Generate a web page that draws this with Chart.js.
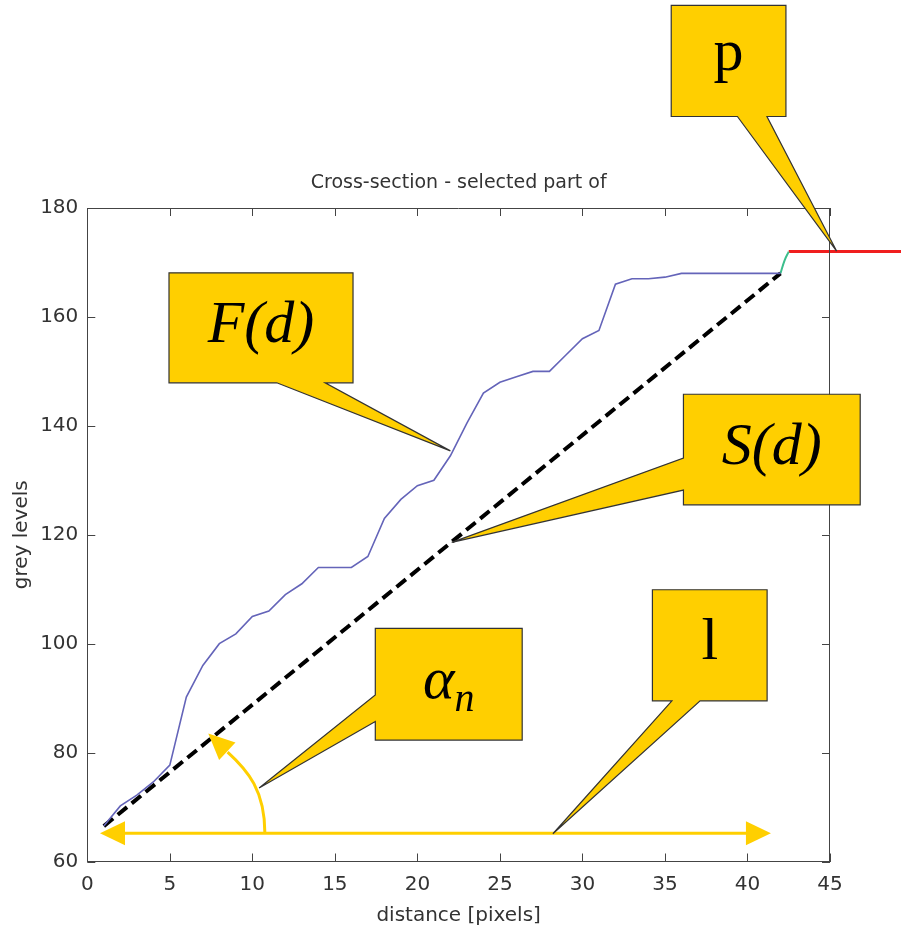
<!DOCTYPE html>
<html>
<head>
<meta charset="utf-8">
<script src="https://cdn.jsdelivr.net/npm/chart.js@4/dist/chart.umd.min.js"></script>
<style>
html,body{margin:0;padding:0;background:#fff;}
#wrap{width:901px;height:935px;position:relative;}
</style>
</head>
<body>
<div id="wrap"><canvas id="c" width="901" height="935"></canvas></div>
<script>
// ---- data ----
const distance = [1,2,3,4,5,6,7,8,9,10,11,12,13,14,15,16,17,18,19,20,21,22,23,24,25,26,27,28,29,30,31,32,33,34,35,36,37,38,39,40,41,42];
const greyF    = [66.5,70.2,72.2,74.6,77.7,90.2,96,100,101.8,105,106,109,111,114,114,114,116,123,126.5,129,130,134.5,140.5,146,148,149,150,150,153,156,157.5,166,167,167,167.3,168,168,168,168,168,168,168];
const chordX   = [1, 42];
const chordY   = [66.5, 168];
const transX   = [42, 42.25, 42.5];
const transY   = [168, 170.4, 172];
const pX       = [42.5, 50];
const pY       = [172, 172];
const xTicks   = [0,5,10,15,20,25,30,35,40,45];
const yTicks   = [60,80,100,120,140,160,180];

// annotation anchors (data coordinates)
const lenArrow = {from:[0.77,65.2], to:[41.42,65.2]};
const angleArc = [[10.76,65.2],[10.76,73.0],[9.74,76.7],[8.5,80.1]];
const angleTip = [7.33,83.5];
const callouts = [
  {text:'p',    italic:false, box:[35.38,217.2,42.33,196.8], side:'bottom', base:[39.39,41.18], tip:[45.4,172.1]},
  {text:'F(d)', italic:true,  box:[4.95,168.1,16.1,147.9],   side:'bottom', base:[11.48,14.41], tip:[22.0,135.4]},
  {text:'S(d)', italic:true,  box:[36.12,145.8,46.83,125.5], side:'left',   base:[134.1,128.2], tip:[22.08,118.6]},
  {text:'\u03B1', sub:'n', italic:true, box:[17.45,102.8,26.35,82.3], side:'left', base:[90.6,85.7], tip:[10.41,73.5]},
  {text:'l',    italic:false, box:[34.24,109.9,41.19,89.5],  side:'bottom', base:[35.42,37.13], tip:[28.21,65.1]}
];

const YELLOW = '#FFCF00';
const TEXTC = '#333';
const SANS = '"DejaVu Sans", sans-serif';
const SERIF = '"Liberation Serif", "Times New Roman", serif';

function pts(xs, ys){ return xs.map((x,i)=>({x:x, y:ys[i]})); }

function arrowHead(ctx, tip, from, len, half){
  const dx = tip[0]-from[0], dy = tip[1]-from[1];
  const d = Math.hypot(dx,dy); const ux = dx/d, uy = dy/d;
  const bx = tip[0]-ux*len, by = tip[1]-uy*len;
  ctx.beginPath();
  ctx.moveTo(tip[0],tip[1]);
  ctx.lineTo(bx - uy*half, by + ux*half);
  ctx.lineTo(bx + uy*half, by - ux*half);
  ctx.closePath();
  ctx.fill();
}

const decor = {
  id:'decor',
  afterDraw(chart){
    const ctx = chart.ctx;
    const xs = chart.scales.x, ys = chart.scales.y;
    const X = v=>xs.getPixelForValue(v), Y = v=>ys.getPixelForValue(v);
    const a = chart.chartArea;
    ctx.save();
    // box + inward ticks
    ctx.strokeStyle = '#444'; ctx.lineWidth = 1;
    ctx.beginPath();
    ctx.moveTo(a.left, a.top+0.5); ctx.lineTo(a.right, a.top+0.5);
    ctx.moveTo(a.right-0.5, a.top); ctx.lineTo(a.right-0.5, a.bottom);
    xTicks.forEach(v=>{ const px=Math.round(X(v))+0.5;
      ctx.moveTo(px,a.bottom); ctx.lineTo(px,a.bottom-8);
      ctx.moveTo(px,a.top); ctx.lineTo(px,a.top+8); });
    yTicks.forEach(v=>{ const py=Math.round(Y(v))+0.5;
      ctx.moveTo(a.left,py); ctx.lineTo(a.left+8,py);
      ctx.moveTo(a.right,py); ctx.lineTo(a.right-8,py); });
    ctx.stroke();

    // yellow length arrow
    ctx.strokeStyle = YELLOW; ctx.fillStyle = YELLOW; ctx.lineWidth = 3;
    const f = [X(lenArrow.from[0]), Y(lenArrow.from[1])], t = [X(lenArrow.to[0]), Y(lenArrow.to[1])];
    ctx.beginPath(); ctx.moveTo(f[0]+20,f[1]); ctx.lineTo(t[0]-20,t[1]); ctx.stroke();
    arrowHead(ctx, f, t, 25, 12);
    arrowHead(ctx, t, f, 25, 12);
    // angle arc
    const P = angleArc.map(p=>[X(p[0]),Y(p[1])]);
    ctx.beginPath(); ctx.moveTo(P[0][0],P[0][1]);
    ctx.bezierCurveTo(P[1][0],P[1][1],P[2][0],P[2][1],P[3][0],P[3][1]);
    ctx.stroke();
    arrowHead(ctx, [X(angleTip[0]),Y(angleTip[1])], [P[2][0],P[2][1]], 26, 12);

    // callouts
    callouts.forEach(c=>{
      const L=X(c.box[0]), T=Y(c.box[1]), R=X(c.box[2]), B=Y(c.box[3]);
      const tp=[X(c.tip[0]),Y(c.tip[1])];
      ctx.beginPath();
      if(c.side==='bottom'){
        const b0=X(c.base[0]), b1=X(c.base[1]);
        ctx.moveTo(L,T); ctx.lineTo(R,T); ctx.lineTo(R,B); ctx.lineTo(b1,B);
        ctx.lineTo(tp[0],tp[1]); ctx.lineTo(b0,B); ctx.lineTo(L,B);
      } else {
        const b0=Y(c.base[0]), b1=Y(c.base[1]);
        ctx.moveTo(L,T); ctx.lineTo(R,T); ctx.lineTo(R,B); ctx.lineTo(L,B);
        ctx.lineTo(L,b1); ctx.lineTo(tp[0],tp[1]); ctx.lineTo(L,b0);
      }
      ctx.closePath();
      ctx.fillStyle = YELLOW; ctx.fill();
      ctx.strokeStyle = '#333'; ctx.lineWidth = 1.2; ctx.stroke();
      // text
      ctx.fillStyle = '#000';
      ctx.textBaseline = 'alphabetic';
      const cx=(L+R)/2, cy=(T+B)/2;
      const mainFont = (c.italic?'italic ':'') + '60px ' + SERIF;
      ctx.font = mainFont;
      if(c.sub){
        const w1 = ctx.measureText(c.text).width;
        ctx.font = 'italic 40px ' + SERIF;
        const w2 = ctx.measureText(c.sub).width;
        const sx = cx - (w1+w2)/2;
        ctx.font = mainFont; ctx.textAlign='left';
        ctx.fillText(c.text, sx, cy+14);
        ctx.font = 'italic 40px ' + SERIF;
        ctx.fillText(c.sub, sx+w1, cy+27);
      } else {
        ctx.textAlign='center';
        ctx.fillText(c.text, cx, cy + (c.text==='p'?9:14));
      }
    });
    ctx.restore();
  }
};

new Chart(document.getElementById('c'), {
  type:'line',
  data:{
    datasets:[
      {label:'F(d)', data:pts(distance, greyF), borderColor:'rgb(100,100,185)', borderWidth:1.6, pointRadius:0, tension:0, fill:false},
      {label:'S(d)', data:pts(chordX, chordY), borderColor:'#000', borderWidth:4, borderDash:[12,6], pointRadius:0, fill:false},
      {label:'transition', data:pts(transX, transY), borderColor:'rgb(60,190,140)', borderWidth:2, pointRadius:0, tension:0.4, fill:false},
      {label:'p', data:pts(pX, pY), borderColor:'rgb(240,30,30)', borderWidth:3, pointRadius:0, fill:false, clip:false}
    ]
  },
  options:{
    responsive:false,
    animation:false,
    devicePixelRatio:1,
    layout:{padding:{left:0,right:71,top:0,bottom:0}},
    plugins:{
      legend:{display:false},
      tooltip:{enabled:false},
      title:{display:true, text:'Cross-section - selected part of', fullSize:false, color:TEXTC,
        font:{family:SANS, size:19, weight:'normal'}, padding:{top:171.6, bottom:13.6}}
    },
    scales:{
      x:{type:'linear', min:0, max:45,
        afterBuildTicks:s=>{ s.ticks = xTicks.map(v=>({value:v})); },
        afterFit:s=>{ s.height = 73.5; },
        grid:{display:true, drawOnChartArea:false, drawTicks:false},
        border:{display:true, color:'#444', width:1},
        ticks:{color:TEXTC, padding:11, font:{family:SANS, size:20}, maxRotation:0},
        title:{display:true, text:'distance [pixels]', color:TEXTC, font:{family:SANS, size:20}, padding:{top:0,bottom:7}}
      },
      y:{type:'linear', min:60, max:180,
        afterBuildTicks:s=>{ s.ticks = yTicks.map(v=>({value:v})); },
        afterFit:s=>{ s.width = 87.3; },
        grid:{display:true, drawOnChartArea:false, drawTicks:false},
        border:{display:true, color:'#444', width:1},
        ticks:{color:TEXTC, padding:9, font:{family:SANS, size:20}},
        title:{display:true, text:'grey levels', color:TEXTC, font:{family:SANS, size:20}, padding:{top:10,bottom:0}}
      }
    }
  },
  plugins:[decor]
});
</script>
</body>
</html>
